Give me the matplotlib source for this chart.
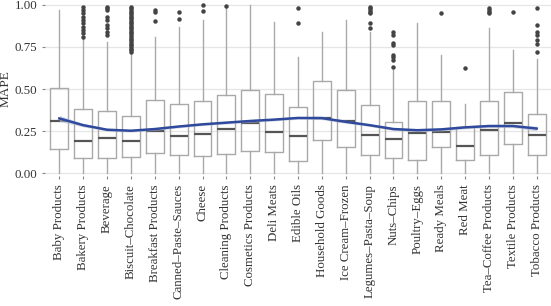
import matplotlib
matplotlib.use("Agg")
from matplotlib import pyplot as plt
import numpy as np

# product groups on the x axis
groups = ["Baby Products", "Bakery Products", "Beverage", "Biscuit\u2013Chocolate",
          "Breakfast Products", "Canned\u2013Paste\u2013Sauces", "Cheese",
          "Cleaning Products", "Cosmetics Products", "Deli Meats", "Edible Oils",
          "Household Goods", "Ice Cream\u2013Frozen", "Legumes\u2013Pasta\u2013Soup",
          "Nuts\u2013Chips", "Poultry\u2013Eggs", "Ready Meals", "Red Meat",
          "Tea\u2013Coffee Products", "Textile Products", "Tobacco Products"]

# box statistics
q1 = [0.143, 0.089, 0.089, 0.093, 0.117, 0.107, 0.101, 0.111, 0.133, 0.123, 0.071,
      0.195, 0.157, 0.109, 0.087, 0.081, 0.153, 0.077, 0.105, 0.173, 0.105]
med = [0.310, 0.192, 0.208, 0.192, 0.252, 0.218, 0.230, 0.262, 0.296, 0.242, 0.218,
       0.329, 0.310, 0.226, 0.202, 0.236, 0.242, 0.163, 0.254, 0.300, 0.228]
q3 = [0.504, 0.379, 0.371, 0.339, 0.434, 0.410, 0.428, 0.462, 0.494, 0.468, 0.395,
      0.546, 0.492, 0.407, 0.304, 0.430, 0.427, 0.276, 0.427, 0.480, 0.349]
whis_lo = [0.0] * 21
whis_hi = [0.97, 0.80, 0.78, 0.71, 0.81, 0.87, 0.91, 0.98, 1.00, 0.90, 0.69,
           0.84, 0.91, 0.84, 0.61, 0.89, 0.70, 0.41, 0.86, 0.73, 0.68]
outliers = [
    [],
    [0.81, 0.83, 0.85, 0.87, 0.89, 0.91, 0.93, 0.95, 0.97, 0.99],
    [0.82, 0.84, 0.86, 0.88, 0.91, 0.93, 0.97, 0.98, 0.99],
    [0.72, 0.73, 0.74, 0.75, 0.76, 0.77, 0.78, 0.79, 0.80, 0.81, 0.82, 0.83, 0.84, 0.85,
     0.86, 0.87, 0.88, 0.89, 0.90, 0.91, 0.92, 0.93, 0.94, 0.95, 0.96, 0.97, 0.98, 0.99],
    [0.907, 0.96, 0.97],
    [0.915, 0.96],
    [0.966, 1.0],
    [0.995],
    [],
    [],
    [0.895, 0.98],
    [],
    [],
    [0.86, 0.89, 0.95, 0.96, 0.97, 0.98, 0.99],
    [0.633, 0.67, 0.69, 0.70, 0.76, 0.775, 0.82, 0.837],
    [],
    [0.954],
    [0.627],
    [0.95, 0.96, 0.97, 0.98],
    [0.955],
    [0.72, 0.77, 0.79, 0.82, 0.84, 0.88, 0.98],
]

# smoothed trend line (loess) read at each group
trend = [0.325, 0.285, 0.258, 0.252, 0.262, 0.277, 0.290, 0.300, 0.310, 0.318, 0.328,
         0.327, 0.305, 0.285, 0.262, 0.255, 0.260, 0.272, 0.280, 0.280, 0.265]
trend_se = [0.018, 0.010, 0.008, 0.008, 0.008, 0.008, 0.008, 0.008, 0.008, 0.008, 0.008,
            0.009, 0.009, 0.008, 0.008, 0.008, 0.009, 0.009, 0.009, 0.010, 0.014]

plt.rcParams['font.family'] = ['Liberation Serif', 'DejaVu Serif']

fig = plt.figure(figsize=(5.51, 3.06), dpi=100)
ax = fig.add_axes([45 / 551, 1 - 176.5 / 306, 506 / 551, 175 / 306])

stats = []
for i in range(len(groups)):
    stats.append({"q1": q1[i], "med": med[i], "q3": q3[i],
                  "whislo": whis_lo[i], "whishi": whis_hi[i], "fliers": outliers[i]})

pos = np.arange(len(groups))
box_grey = "#a9a9a9"
ax.bxp(stats, positions=pos, widths=0.75, showcaps=False, patch_artist=False,
       boxprops=dict(color=box_grey, linewidth=1.0),
       whiskerprops=dict(color=box_grey, linewidth=1.0),
       medianprops=dict(color="#555555", linewidth=1.6),
       flierprops=dict(marker="o", markersize=2.2, markerfacecolor="#444444",
                       markeredgecolor="#444444"))

lo = np.array(trend) - np.array(trend_se)
hi = np.array(trend) + np.array(trend_se)
ax.fill_between(pos, lo, hi, color="#b8bfd8", alpha=0.6, linewidth=0, zorder=3)
ax.plot(pos, trend, color="#2f4a9c", linewidth=1.8, zorder=4)

ax.set_xlim(-0.6, len(groups) - 0.4)
ax.set_ylim(-0.02, 1.02)
ax.set_yticks([0, 0.25, 0.5, 0.75, 1.0])
ax.set_yticklabels(["0.00", "0.25", "0.50", "0.75", "1.00"])
ax.set_xticks(pos)
ax.set_xticklabels(groups, rotation=90, ha="center", va="top")
ax.grid(axis="y", color="#e6e6e6", linewidth=0.9, zorder=0)
ax.set_axisbelow(True)
for s in ax.spines.values():
    s.set_visible(False)
ax.tick_params(axis="both", length=2.5, width=0.8, color="#888888",
               labelsize=9.3, labelcolor="#333333", pad=3)
ax.set_ylabel("MAPE", fontsize=9.5, color="#333333", labelpad=2)
ax.set_xlabel("PRODUCT GROUPS", fontsize=8.5, color="#555555", labelpad=6)

fig.savefig("out.png", dpi=100)
